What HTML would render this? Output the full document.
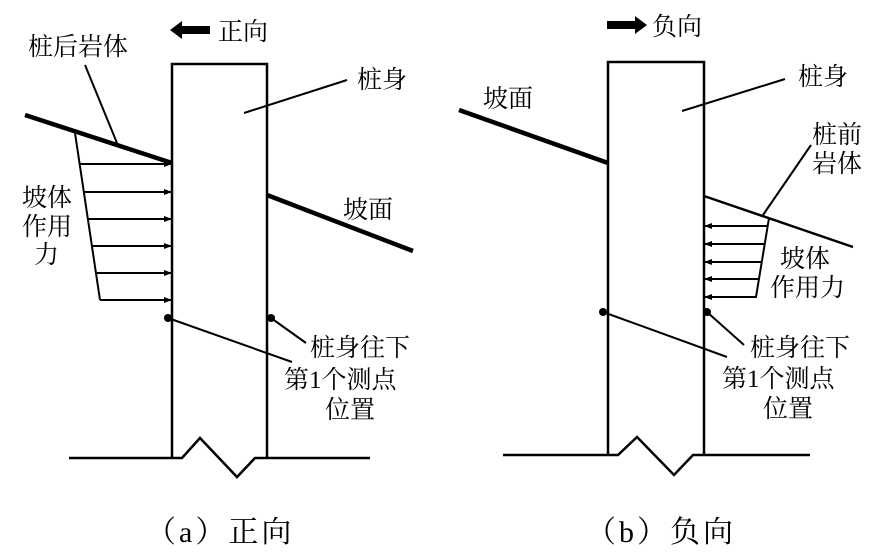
<!DOCTYPE html>
<html><head><meta charset="utf-8"><style>
html,body{margin:0;padding:0;background:#fff;}
svg{display:block;}
text{font-family:"Liberation Serif","Noto Serif CJK SC",serif;fill:#000;}
</style></head><body>
<svg width="877" height="556" viewBox="0 0 877 556" xmlns="http://www.w3.org/2000/svg">
<defs>
<marker id="ah" markerWidth="8" markerHeight="8" refX="7" refY="4" orient="auto" markerUnits="userSpaceOnUse">
<path d="M0,1 L8,4 L0,7 Z" fill="#000"/></marker>
</defs>
<g stroke="#000" fill="none" stroke-width="2.5">
<polyline points="172,458 172,64 267,64 267,458"/>
<polyline points="69,458 182,458 200,438 237,477 255,458 370,458"/>
<line x1="25" y1="115" x2="172" y2="163" stroke-width="4.5"/>
<line x1="267" y1="195" x2="413" y2="251" stroke-width="4.5"/>
<line x1="85" y1="65" x2="117" y2="143" stroke-width="2"/>
<line x1="75" y1="133" x2="100" y2="300" stroke-width="2"/>
<g stroke-width="2" marker-end="url(#ah)">
<line x1="80" y1="164" x2="171" y2="164"/>
<line x1="84" y1="192" x2="171" y2="192"/>
<line x1="88" y1="219" x2="171" y2="219"/>
<line x1="92" y1="246" x2="171" y2="246"/>
<line x1="96" y1="273" x2="171" y2="273"/>
<line x1="100" y1="300" x2="171" y2="300"/>
</g>
<line x1="244" y1="113" x2="347" y2="80" stroke-width="2"/>
<line x1="168" y1="318" x2="292" y2="362" stroke-width="2"/>
<line x1="271" y1="318" x2="306" y2="343" stroke-width="2"/>
<polyline points="608,455 608,62 704,62 704,455"/>
<polyline points="503,455 618,455 637,437 674,475 693,455 810,455"/>
<line x1="459" y1="110" x2="608" y2="163" stroke-width="4.5"/>
<line x1="704" y1="196" x2="853" y2="247" stroke-width="2.5"/>
<line x1="763" y1="215" x2="811" y2="145" stroke-width="2"/>
<polyline points="769,218 756,297 708,297" stroke-width="2"/>
<g stroke-width="2" marker-end="url(#ah)">
<line x1="768" y1="226" x2="705" y2="226"/>
<line x1="765" y1="244" x2="705" y2="244"/>
<line x1="762" y1="262" x2="705" y2="262"/>
<line x1="759" y1="279" x2="705" y2="279"/>
<line x1="756" y1="297" x2="705" y2="297"/>
</g>
<line x1="682" y1="111" x2="785" y2="79" stroke-width="2"/>
<line x1="603" y1="312" x2="727" y2="357" stroke-width="2"/>
<line x1="707" y1="312" x2="744" y2="345" stroke-width="2"/>
</g>
<g fill="#000">
<circle cx="168" cy="318" r="4"/><circle cx="271" cy="318" r="4"/>
<circle cx="603" cy="312" r="4"/><circle cx="707" cy="312" r="4"/>
<path d="M170,30 L182,21 L182,26 L210,26 L210,34 L182,34 L182,39 Z"/>
<path d="M647,25 L635,16 L635,21 L607,21 L607,29 L635,29 L635,34 Z"/>
</g>
<g font-size="25">
<text x="218" y="40">正向</text>
<text x="652" y="35">负向</text>
<text x="28" y="55">桩后岩体</text>
<text x="22" y="206">坡体</text>
<text x="22" y="235">作用</text>
<text x="34" y="263">力</text>
<text x="357" y="88">桩身</text>
<text x="343" y="218">坡面</text>
<text x="310" y="356">桩身往下</text>
<text x="284" y="388">第1个测点</text>
<text x="325" y="418">位置</text>
<text x="483" y="107">坡面</text>
<text x="798" y="85">桩身</text>
<text x="812" y="143">桩前</text>
<text x="812" y="172">岩体</text>
<text x="780" y="267">坡体</text>
<text x="770" y="296">作用力</text>
<text x="750" y="356">桩身往下</text>
<text x="722" y="387">第1个测点</text>
<text x="763" y="417">位置</text>
</g>
<g font-size="30" letter-spacing="3">
<text x="146" y="542">（a）正向</text>
<text x="586" y="542">（b）负向</text>
</g>
</svg>
</body></html>
